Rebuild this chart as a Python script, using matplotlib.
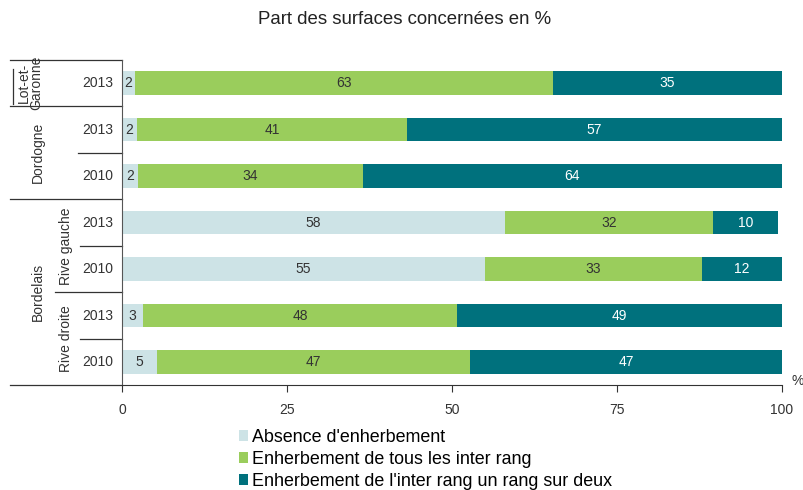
import matplotlib
matplotlib.use("Agg")
import matplotlib.pyplot as plt
from matplotlib.transforms import blended_transform_factory
from matplotlib.patches import Patch

# Values (top to bottom)
years = ["2013", "2013", "2010", "2013", "2010", "2013", "2010"]
absence = [2.0, 2.3, 2.4, 58.0, 55.0, 3.2, 5.3]
tous_rangs = [63.3, 40.9, 34.1, 31.5, 32.9, 47.6, 47.4]
un_sur_deux = [34.7, 56.8, 63.5, 9.9, 12.1, 49.2, 47.3]
series_names = ["Absence d'enherbement",
                "Enherbement de tous les inter rang",
                "Enherbement de l'inter rang un rang sur deux"]
colors = ["#cde3e6", "#9acd5c", "#00717d"]
text_colors = ["#333333", "#333333", "white"]

plt.rcParams['font.family'] = ['Liberation Sans', 'DejaVu Sans']

W, H = 804, 490
fig = plt.figure(figsize=(W / 100, H / 100), dpi=100)
ax = fig.add_axes([122 / W, (H - 385.25) / H, 660 / W, 325.5 / H])

y = list(range(len(years)))
left = [0] * len(years)
for vals, col, tcol in zip([absence, tous_rangs, un_sur_deux], colors, text_colors):
    bars = ax.barh(y, vals, left=left, height=0.5, color=col)
    for b, v in zip(bars, vals):
        ax.text(b.get_x() + b.get_width() / 2, b.get_y() + b.get_height() / 2,
                f"{v:.0f}", ha="center", va="center", fontsize=10, color=tcol)
    left = [l + v for l, v in zip(left, vals)]

ax.set_xlim(0, 100)
ax.set_ylim(6.5, -0.5)
ax.set_xticks([0, 25, 50, 75, 100])
ax.tick_params(axis="x", length=5, pad=8, labelsize=10, colors="#333333")
ax.set_yticks([])
ax.spines["top"].set_visible(False)
ax.spines["right"].set_visible(False)
ax.spines["left"].set_color("#555555")
ax.spines["bottom"].set_color("#333333")
ax.text(798 / W, (H - 381) / H, "%", transform=fig.transFigure, fontsize=10,
        ha="center", va="center", color="#333333")

fig.text(405 / W, (H - 20) / H, "Part des surfaces concernées en %",
         ha="center", va="center", fontsize=13.4, color="#222222")

# multi-level category axis on the left
tr = blended_transform_factory(fig.transFigure, ax.transData)
sep_lines = [(-0.5, 10), (0.5, 10), (1.5, 78), (2.5, 10), (3.5, 80), (4.5, 55), (5.5, 80), (6.5, 10)]
for yy, x0 in sep_lines:
    ax.plot([x0 / W, 122 / W], [yy, yy], transform=tr, color="#333333", lw=0.9, clip_on=False)
ax.plot([13 / W, 13 / W], [-0.3, 0.45], transform=tr, color="#333333", lw=0.9, clip_on=False)

for i, yr in enumerate(years):
    ax.text(98 / W, i, yr, transform=tr, ha="center", va="center", fontsize=10, color="#333333")

group_labels = [("Lot-et-\nGaronne", 30, 0), ("Dordogne", 38, 1.5), ("Bordelais", 38, 4.5),
                ("Rive gauche", 66, 3.5), ("Rive droite", 66, 5.5)]
for txt, xx, yy in group_labels:
    ax.text(xx / W, yy, txt, transform=tr, rotation=90, ha="center", va="center",
            fontsize=10, color="#333333", linespacing=0.9)

handles = [Patch(facecolor=c, edgecolor="none") for c in colors]
fig.legend(handles, series_names, loc="upper left", bbox_to_anchor=(239 / W, (H - 429) / H),
           frameon=False, fontsize=12.9, handlelength=0.5, handleheight=0.6,
           handletextpad=0.2, labelspacing=0.27, borderpad=0, borderaxespad=0)

fig.savefig("out.png", dpi=100)
